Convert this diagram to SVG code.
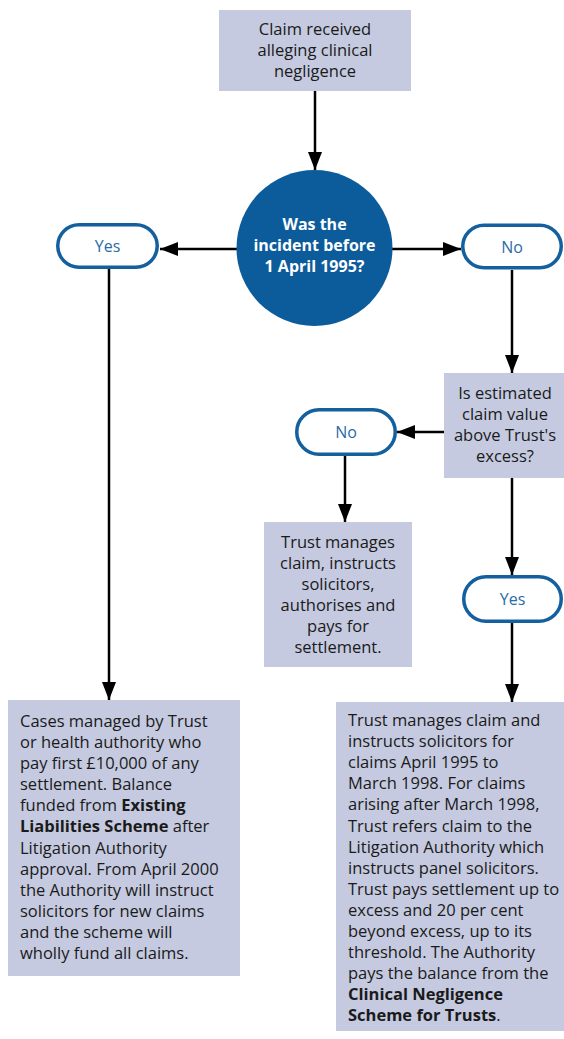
<svg xmlns="http://www.w3.org/2000/svg" width="564" height="1039" viewBox="0 0 564 1039">
<style>
.box{fill:#c5cae0}
.pill{fill:#ffffff;stroke:#14609f;stroke-width:3.5}
.pt{font-family:"Open Sans","Liberation Sans",sans-serif;font-size:16px;fill:#2b6ba7;text-anchor:middle}
.t{font-family:"Open Sans","Liberation Sans",sans-serif;font-size:16.5px;fill:#1a1a1a}
.c{text-anchor:middle}
.ct{font-family:"Open Sans","Liberation Sans",sans-serif;font-size:16px;font-weight:bold;fill:#ffffff;text-anchor:middle}
.b{font-weight:bold}
.conn{stroke:#000;stroke-width:2.5;fill:none;marker-end:url(#ah)}
</style>
<defs>
<marker id="ah" markerUnits="userSpaceOnUse" markerWidth="18" markerHeight="14" refX="18" refY="7" orient="auto">
<path d="M0,0 L18,7 L0,14 z" fill="#000"/>
</marker>
</defs>
<rect width="564" height="1039" fill="#ffffff"/>
<g id="connectors">
<line class="conn" x1="315" y1="91" x2="315" y2="170"/>
<line class="conn" x1="237" y1="249" x2="160" y2="249"/>
<line class="conn" x1="392" y1="249" x2="461" y2="249"/>
<line class="conn" x1="109" y1="269" x2="109" y2="700"/>
<line class="conn" x1="512" y1="270" x2="512" y2="373"/>
<line class="conn" x1="444" y1="432" x2="397" y2="432"/>
<line class="conn" x1="345" y1="456" x2="345" y2="522"/>
<line class="conn" x1="512" y1="478" x2="512" y2="575"/>
<line class="conn" x1="512" y1="623" x2="512" y2="702"/>
</g>
<g id="claim">
<rect class="box" x="219" y="10" width="192" height="81"/>
<text class="t c" x="315" y="35">Claim received</text>
<text class="t c" x="315" y="56">alleging clinical</text>
<text class="t c" x="315" y="77">negligence</text>
</g>
<g id="decision1">
<circle cx="314.5" cy="248" r="78" fill="#0c5c9c"/>
<text class="ct" x="314.5" y="230">Was the</text>
<text class="ct" x="314.5" y="251">incident before</text>
<text class="ct" x="314.5" y="272">1 April 1995?</text>
</g>
<g id="yes1">
<rect class="pill" x="57.75" y="224.75" width="99.5" height="42.5" rx="21.25"/>
<text class="pt" x="107.5" y="252">Yes</text>
</g>
<g id="no1">
<rect class="pill" x="462.75" y="225.25" width="98.5" height="42.5" rx="21.25"/>
<text class="pt" x="512" y="253">No</text>
</g>
<g id="decision2">
<rect class="box" x="444" y="373" width="120" height="105"/>
<text class="t c" x="505" y="399">Is estimated</text>
<text class="t c" x="505" y="420">claim value</text>
<text class="t c" x="505" y="441">above Trust's</text>
<text class="t c" x="505" y="462">excess?</text>
</g>
<g id="no2">
<rect class="pill" x="296.75" y="409.75" width="98.5" height="44.5" rx="22.25"/>
<text class="pt" x="346" y="438">No</text>
</g>
<g id="yes2">
<rect class="pill" x="463.75" y="576.75" width="97.5" height="44.5" rx="22.25"/>
<text class="pt" x="512.5" y="605">Yes</text>
</g>
<g id="trustManages">
<rect class="box" x="264" y="522" width="148" height="145"/>
<text class="t c" x="338" y="548">Trust manages</text>
<text class="t c" x="338" y="569">claim, instructs</text>
<text class="t c" x="338" y="590">solicitors,</text>
<text class="t c" x="338" y="611">authorises and</text>
<text class="t c" x="338" y="632">pays for</text>
<text class="t c" x="338" y="653">settlement.</text>
</g>
<g id="existingLiabilities">
<rect class="box" x="8" y="700" width="232" height="276"/>
<text class="t" x="20" y="727">Cases managed by Trust</text>
<text class="t" x="20" y="748">or health authority who</text>
<text class="t" x="20" y="769">pay first £10,000 of any</text>
<text class="t" x="20" y="790">settlement. Balance</text>
<text class="t" x="20" y="811">funded from <tspan class="b">Existing</tspan></text>
<text class="t" x="20" y="832"><tspan class="b">Liabilities Scheme</tspan> after</text>
<text class="t" x="20" y="854">Litigation Authority</text>
<text class="t" x="20" y="875">approval. From April 2000</text>
<text class="t" x="20" y="896">the Authority will instruct</text>
<text class="t" x="20" y="917">solicitors for new claims</text>
<text class="t" x="20" y="938">and the scheme will</text>
<text class="t" x="20" y="959">wholly fund all claims.</text>
</g>
<g id="cnst">
<rect class="box" x="336" y="702" width="228" height="329"/>
<text class="t" x="348" y="726">Trust manages claim and</text>
<text class="t" x="348" y="747">instructs solicitors for</text>
<text class="t" x="348" y="768">claims April 1995 to</text>
<text class="t" x="348" y="789">March 1998. For claims</text>
<text class="t" x="348" y="810">arising after March 1998,</text>
<text class="t" x="348" y="832">Trust refers claim to the</text>
<text class="t" x="348" y="853">Litigation Authority which</text>
<text class="t" x="348" y="874">instructs panel solicitors.</text>
<text class="t" x="348" y="895">Trust pays settlement up to</text>
<text class="t" x="348" y="916">excess and 20 per cent</text>
<text class="t" x="348" y="937">beyond excess, up to its</text>
<text class="t" x="348" y="958">threshold. The Authority</text>
<text class="t" x="348" y="979">pays the balance from the</text>
<text class="t" x="348" y="1000"><tspan class="b">Clinical Negligence</tspan></text>
<text class="t" x="348" y="1021"><tspan class="b">Scheme for Trusts</tspan>.</text>
</g>
</svg>
